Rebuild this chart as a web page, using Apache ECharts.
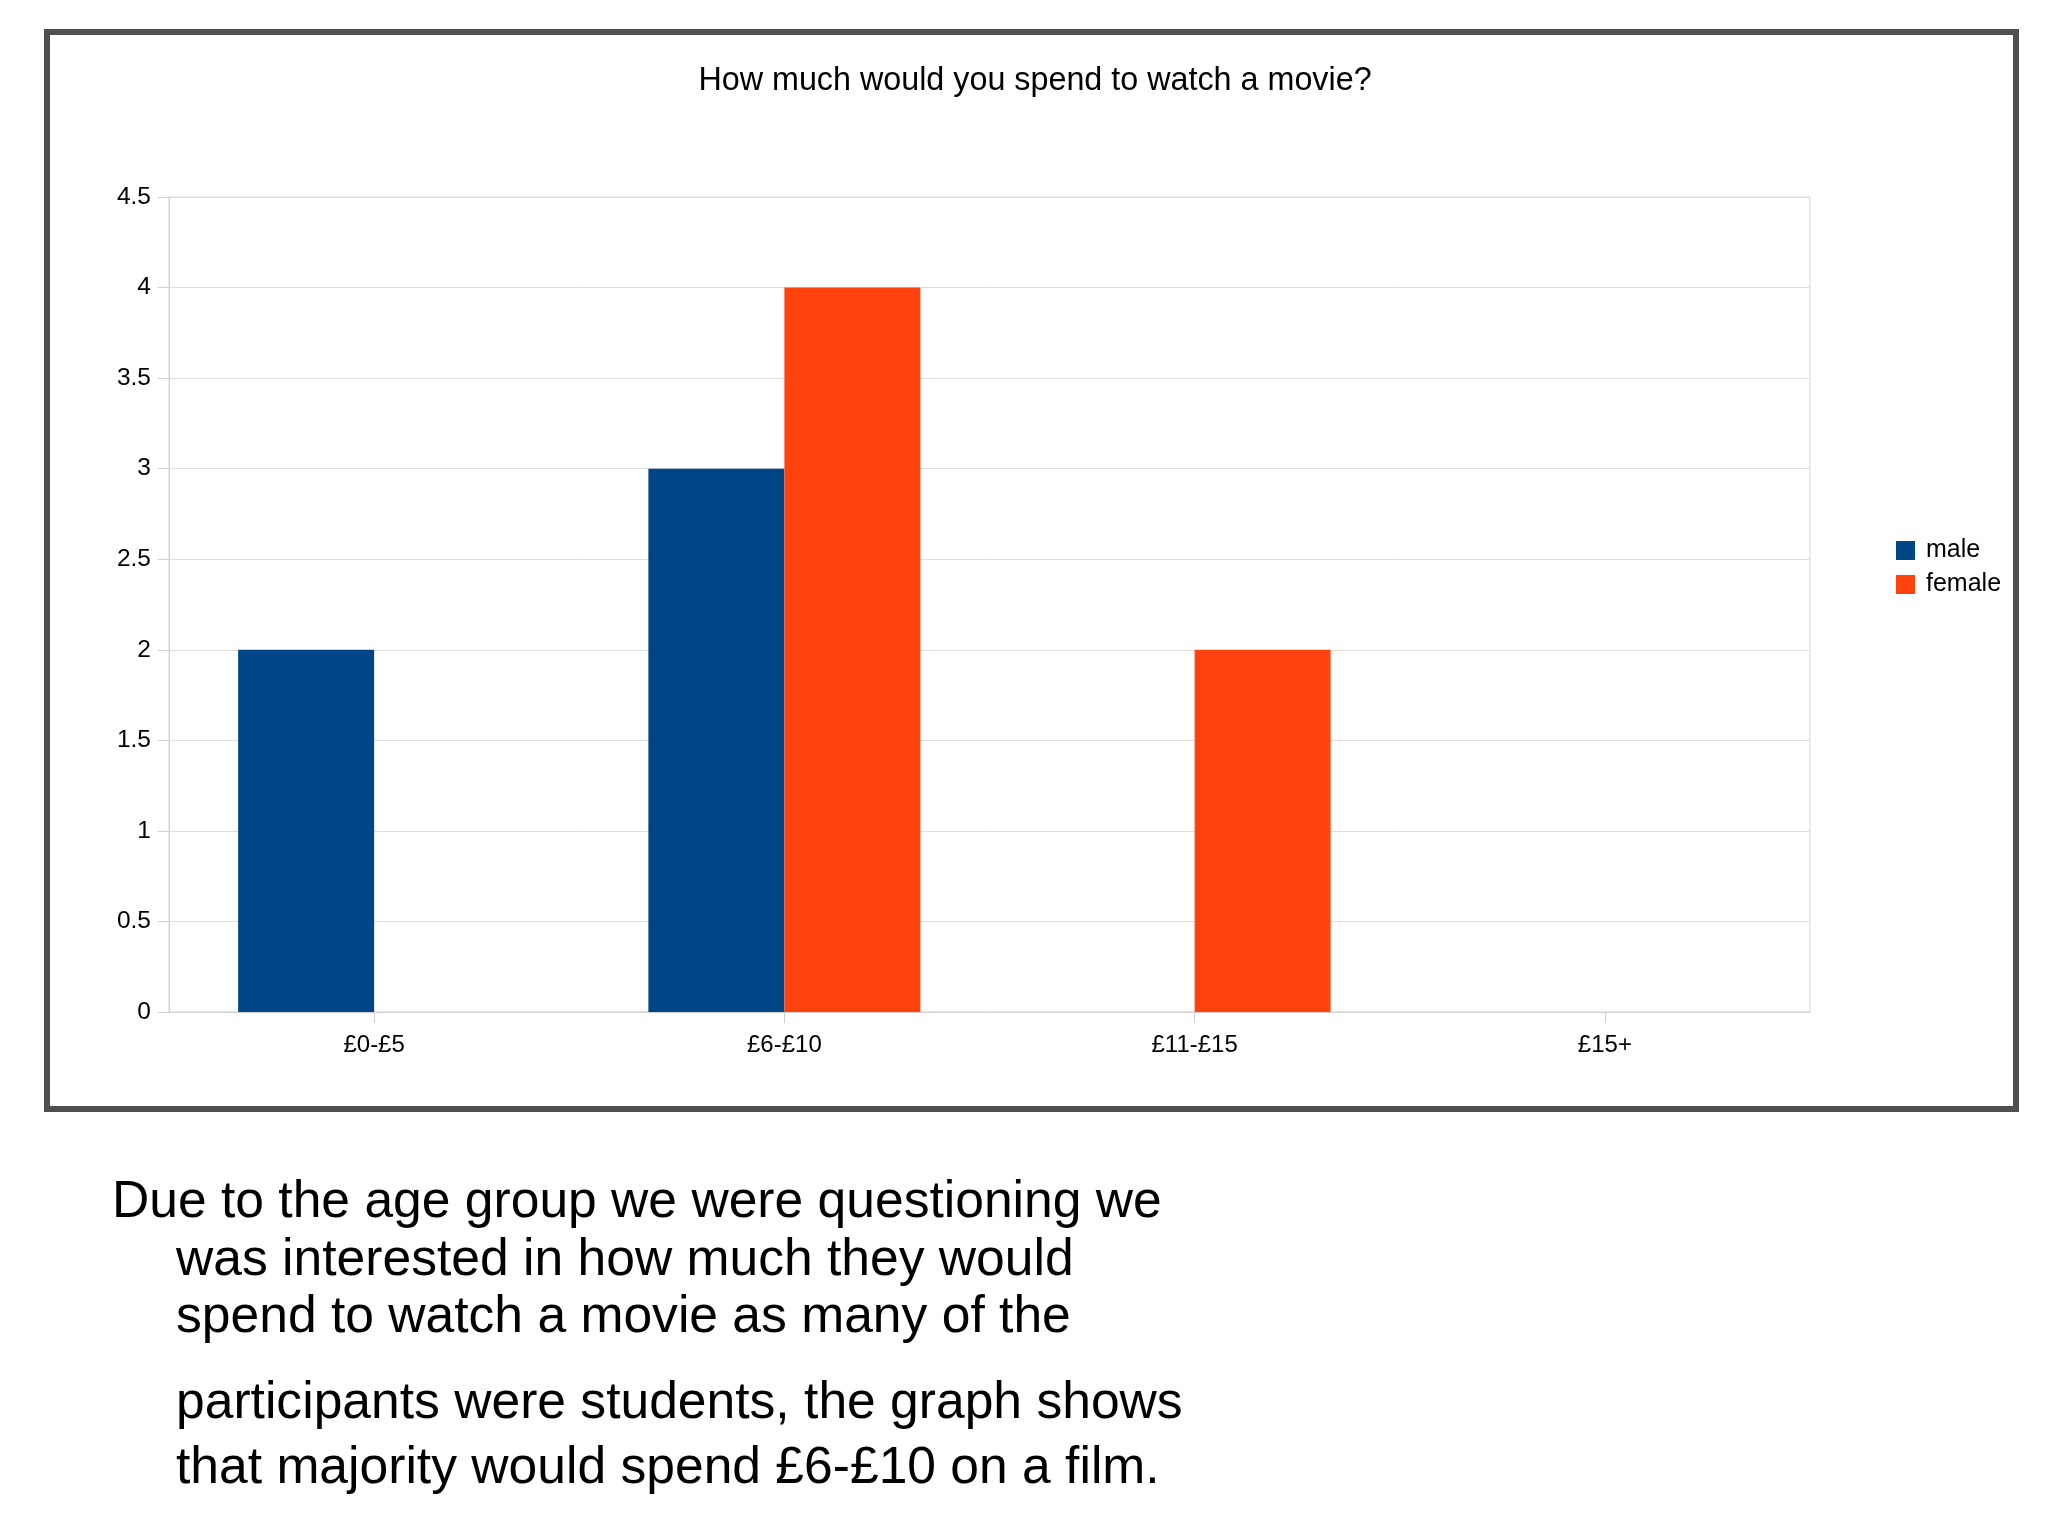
<!DOCTYPE html>
<html>
<head>
<meta charset="utf-8">
<script src="https://cdn.jsdelivr.net/npm/echarts@6/dist/echarts.min.js"></script>
<style>
  html, body { margin: 0; padding: 0; background: #ffffff; }
  #chart { width: 2048px; height: 1535px; }
</style>
</head>
<body>
<div id="chart"></div>
<script>
const chartTitle = 'How much would you spend to watch a movie?';
const categories = ['£0-£5', '£6-£10', '£11-£15', '£15+'];
const seriesNames = ['male', 'female'];
const maleValues = [2, 3, 0, 0];
const femaleValues = [0, 4, 2, 0];
const noteLines = [
  'Due to the age group we were questioning we',
  'was interested in how much they would',
  'spend to watch a movie as many of the',
  'participants were students, the graph shows',
  'that majority would spend £6-£10 on a film.'
];

const FONT = '"Liberation Sans", Arial, Helvetica, sans-serif';
const chart = echarts.init(document.getElementById('chart'), null, { renderer: 'canvas' });

const noteX = [112, 176, 176, 176, 176];
const noteY = [1203, 1261, 1318, 1404, 1469];

const graphics = [
  {
    type: 'rect',
    shape: { x: 47, y: 32, width: 1969, height: 1077 },
    style: { fill: 'none', stroke: '#4f4f4f', lineWidth: 6 },
    silent: true, z: 10
  },
  {
    type: 'text',
    x: 1035, y: 81,
    style: {
      text: chartTitle, fill: '#000', fontFamily: FONT, fontSize: 32.3,
      align: 'center', verticalAlign: 'middle'
    }
  }
];
noteLines.forEach((t, i) => {
  graphics.push({
    type: 'text',
    x: noteX[i], y: noteY[i],
    style: {
      text: t, fill: '#000', fontFamily: FONT, fontSize: 51.6,
      align: 'left', verticalAlign: 'middle'
    }
  });
});

const option = {
  backgroundColor: '#ffffff',
  animation: false,
  textStyle: { fontFamily: FONT },
  legend: {
    orient: 'vertical',
    left: 1896,
    top: 538,
    padding: 0,
    itemWidth: 19,
    itemHeight: 19,
    itemGap: 9,
    icon: 'rect',
    data: seriesNames,
    textStyle: { color: '#000', fontSize: 25, fontFamily: FONT, padding: [0, 0, 0, 6] }
  },
  grid: {
    left: 169, right: 238, top: 197, bottom: 523,
    show: true, borderColor: '#d6d6d6', borderWidth: 1,
    containLabel: false
  },
  xAxis: {
    type: 'category',
    data: categories,
    axisLine: { show: true, lineStyle: { color: '#cfcfcf', width: 1 } },
    axisTick: { show: true, alignWithLabel: true, length: 11, lineStyle: { color: '#cfcfcf' } },
    axisLabel: { color: '#000', fontSize: 24, fontFamily: FONT, margin: 21 },
    splitLine: { show: false }
  },
  yAxis: {
    type: 'value',
    min: 0, max: 4.5, interval: 0.5,
    axisLine: { show: true, lineStyle: { color: '#cfcfcf', width: 1 } },
    axisTick: { show: true, length: 11, lineStyle: { color: '#cfcfcf' } },
    axisLabel: { color: '#000', fontSize: 24.5, fontFamily: FONT, margin: 18 },
    splitLine: { show: true, lineStyle: { color: '#dedede', width: 1 } }
  },
  series: [
    {
      name: seriesNames[0], type: 'bar', data: maleValues,
      barWidth: 136, barGap: '0%',
      itemStyle: { color: '#004586' }
    },
    {
      name: seriesNames[1], type: 'bar', data: femaleValues,
      barWidth: 136, barGap: '0%',
      itemStyle: { color: '#ff420e' }
    }
  ],
  graphic: graphics
};
chart.setOption(option);
</script>
</body>
</html>
